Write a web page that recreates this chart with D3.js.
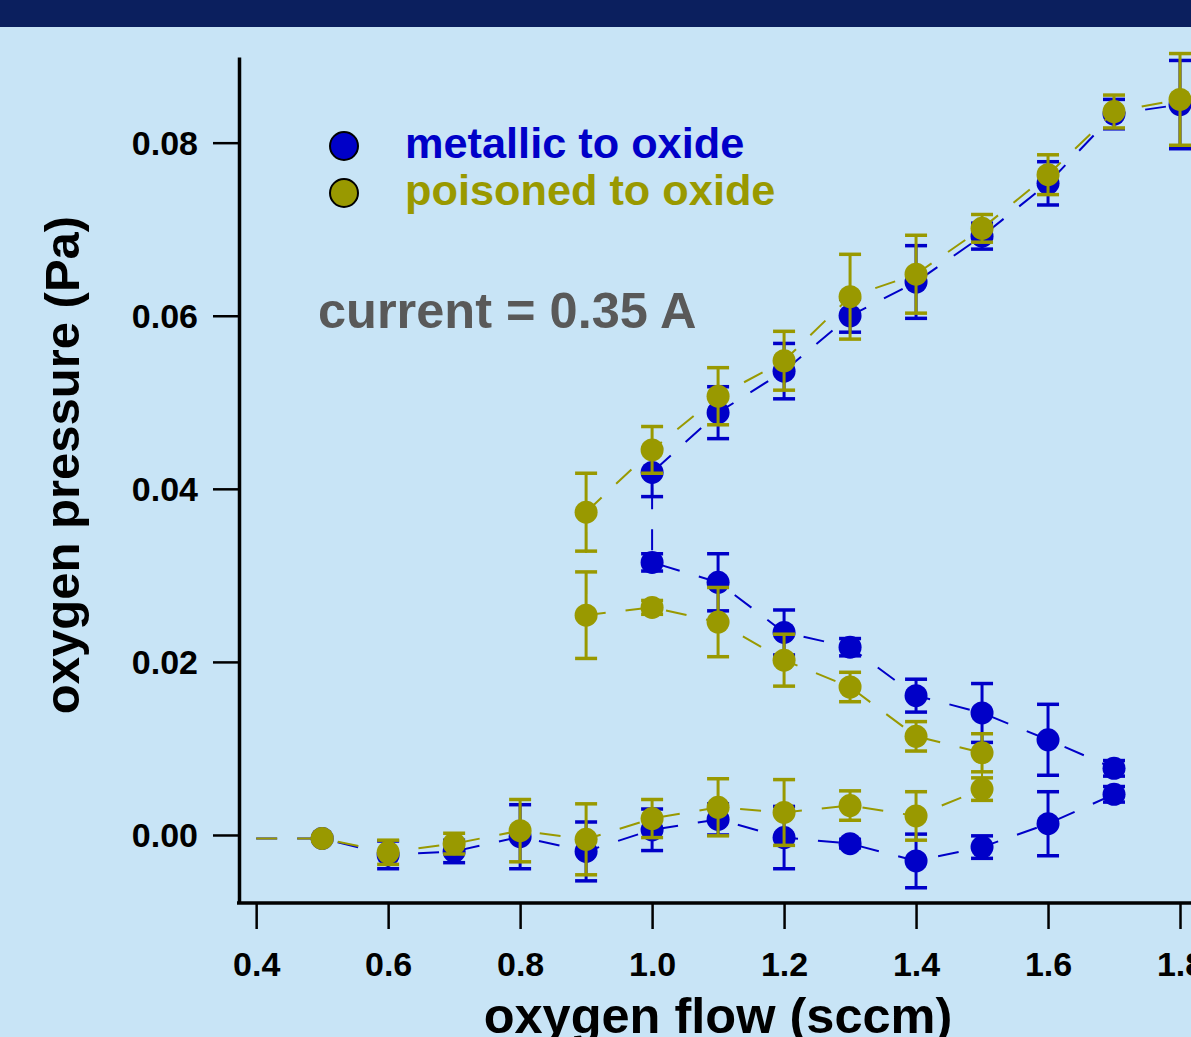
<!DOCTYPE html>
<html>
<head>
<meta charset="utf-8">
<title>oxygen pressure vs oxygen flow</title>
<script src="https://d3js.org/d3.v7.min.js"></script>
<style>
  body { margin: 0; background: #c8e4f6; }
  svg { font-family: "Liberation Sans", Arial, sans-serif; font-weight: bold; display: block; }
  .axis path, .axis line { stroke: #000; }
  .axis text { fill: #000; font-size: 34px; font-weight: bold; font-family: "Liberation Sans", Arial, sans-serif; }
</style>
</head>
<body>
<script>
// series order follows the measurement path (lower branch, middle branch, upper branch)
var metalFlow = [0.5, 0.6, 0.7, 0.8, 0.9, 1.0, 1.1, 1.2, 1.3, 1.4, 1.5, 1.6, 1.7,
                 1.7, 1.6, 1.5, 1.4, 1.3, 1.2, 1.1, 1.0,
                 1.0, 1.1, 1.2, 1.3, 1.4, 1.5, 1.6, 1.7, 1.8];
var metalP = [-0.0004, -0.0023, -0.0019, -0.0002, -0.0019, 0.0006, 0.0018, -0.0003, -0.0010, -0.0030, -0.0014, 0.0013, 0.0047,
              0.0077, 0.0110, 0.0141, 0.0161, 0.0217, 0.0234, 0.0292, 0.0315,
              0.0419, 0.0488, 0.0536, 0.0600, 0.0639, 0.0692, 0.0753, 0.0833, 0.0844];
var metalErr = [0.0003, 0.0016, 0.0013, 0.0037, 0.0034, 0.0024, 0.0018, 0.0036, 0.0005, 0.0031, 0.0013, 0.0037, 0.0009,
                0.0009, 0.0041, 0.0034, 0.0019, 0.0010, 0.0026, 0.0033, 0.0010,
                0.0028, 0.0030, 0.0032, 0.0019, 0.0042, 0.0015, 0.0025, 0.0017, 0.0051];

var poisFlow = [0.5, 0.6, 0.7, 0.8, 0.9, 1.0, 1.1, 1.2, 1.3, 1.4, 1.5,
                1.5, 1.4, 1.3, 1.2, 1.1, 1.0, 0.9,
                0.9, 1.0, 1.1, 1.2, 1.3, 1.4, 1.5, 1.6, 1.7, 1.8];
var poisP = [-0.0004, -0.0020, -0.0010, 0.0005, -0.0005, 0.0019, 0.0032, 0.0026, 0.0034, 0.0022, 0.0053,
             0.0095, 0.0114, 0.0171, 0.0202, 0.0246, 0.0263, 0.0254,
             0.0373, 0.0445, 0.0507, 0.0548, 0.0622, 0.0648, 0.0701, 0.0763, 0.0836, 0.0850];
var poisErr = [0.0003, 0.0014, 0.0012, 0.0036, 0.0041, 0.0022, 0.0033, 0.0038, 0.0017, 0.0028, 0.0013,
               0.0022, 0.0017, 0.0017, 0.0030, 0.0040, 0.0008, 0.0050,
               0.0045, 0.0027, 0.0033, 0.0034, 0.0049, 0.0045, 0.0016, 0.0023, 0.0019, 0.0053];

// the dashed line starts a bit left of the first marker
var lineStartFlow = 0.4;
var lineStartP = [-0.0004, -0.0004];

var seriesNames = ["metallic to oxide", "poisoned to oxide"];
var seriesColors = ["#0000c8", "#999900"];

var xTicks = [0.4, 0.6, 0.8, 1.0, 1.2, 1.4, 1.6, 1.8];
var yTicks = [0.00, 0.02, 0.04, 0.06, 0.08];
var note = "current = 0.35 A";

var W = 1191, H = 1037;

var svg = d3.select("body").append("svg")
    .attr("width", W)
    .attr("height", H);

svg.append("rect").attr("width", W).attr("height", H).attr("fill", "#c8e4f6");
svg.append("rect").attr("width", W).attr("height", 27).attr("fill", "#0b1f5e");

var x = d3.scaleLinear().domain([0.374, 1.9]).range([239, 1246]);
var y = d3.scaleLinear().domain([-0.00786, 0.0899]).range([903, 57]);

svg.append("clipPath").attr("id", "plotclip")
  .append("rect").attr("x", 240).attr("y", 30).attr("width", W - 240).attr("height", 873);

var plot = svg.append("g").attr("clip-path", "url(#plotclip)");

var series = [
    { flow: metalFlow, p: metalP, err: metalErr },
    { flow: poisFlow, p: poisP, err: poisErr }
];

var line = d3.line()
    .x(function (d) { return x(d[0]); })
    .y(function (d) { return y(d[1]); });

series.forEach(function (s, k) {
    var color = seriesColors[k];
    var pts = s.flow.map(function (f, i) { return [f, s.p[i], s.err[i]]; });
    var linePts = [[lineStartFlow, lineStartP[k]]].concat(pts);

    plot.append("path")
        .datum(linePts)
        .attr("d", line)
        .attr("fill", "none")
        .attr("stroke", color)
        .attr("stroke-width", 2)
        .attr("stroke-dasharray", "21,20");

    var bars = plot.append("g").selectAll("g")
        .data(pts)
        .enter().append("g")
        .attr("stroke", color);
    bars.append("line")
        .attr("x1", function (d) { return x(d[0]); })
        .attr("x2", function (d) { return x(d[0]); })
        .attr("y1", function (d) { return y(d[1] - d[2]); })
        .attr("y2", function (d) { return y(d[1] + d[2]); })
        .attr("stroke-width", 3);
    bars.append("line")
        .attr("x1", function (d) { return x(d[0]) - 11; })
        .attr("x2", function (d) { return x(d[0]) + 11; })
        .attr("y1", function (d) { return y(d[1] + d[2]); })
        .attr("y2", function (d) { return y(d[1] + d[2]); })
        .attr("stroke-width", 3.5);
    bars.append("line")
        .attr("x1", function (d) { return x(d[0]) - 11; })
        .attr("x2", function (d) { return x(d[0]) + 11; })
        .attr("y1", function (d) { return y(d[1] - d[2]); })
        .attr("y2", function (d) { return y(d[1] - d[2]); })
        .attr("stroke-width", 3.5);

    plot.append("g").selectAll("circle")
        .data(pts)
        .enter().append("circle")
        .attr("cx", function (d) { return x(d[0]); })
        .attr("cy", function (d) { return y(d[1]); })
        .attr("r", 11.5)
        .attr("fill", color);
});

// axes
var xAxis = d3.axisBottom(x).tickValues(xTicks).tickSize(26).tickSizeOuter(0)
    .tickFormat(d3.format(".1f"));
var gx = svg.append("g").attr("class", "axis")
    .attr("transform", "translate(0,903)")
    .call(xAxis);
gx.select(".domain").attr("stroke-width", 3.5).attr("d", "M237,0H" + (W + 10));
gx.selectAll(".tick line").attr("stroke-width", 2.5);
gx.selectAll(".tick text").attr("dy", null).attr("y", 73);

var yAxis = d3.axisLeft(y).tickValues(yTicks).tickSize(26).tickSizeOuter(0).tickPadding(15)
    .tickFormat(d3.format(".2f"));
var gy = svg.append("g").attr("class", "axis")
    .attr("transform", "translate(239,0)")
    .call(yAxis);
gy.select(".domain").attr("stroke-width", 3.5);
gy.selectAll(".tick line").attr("stroke-width", 2.5);
gy.selectAll(".tick text").attr("dy", "0.35em");

// axis titles
svg.append("text")
    .attr("x", 718)
    .attr("y", 1033)
    .attr("text-anchor", "middle")
    .attr("font-size", "50.5px")
    .attr("fill", "#000")
    .text("oxygen flow (sccm)");

svg.append("text")
    .attr("transform", "translate(79,465)rotate(-90)")
    .attr("text-anchor", "middle")
    .attr("font-size", "49px")
    .attr("fill", "#000")
    .text("oxygen pressure (Pa)");

// legend
var legend = svg.append("g");
seriesNames.forEach(function (name, k) {
    legend.append("circle")
        .attr("cx", 344)
        .attr("cy", 146 + k * 47)
        .attr("r", 14)
        .attr("fill", seriesColors[k])
        .attr("stroke", "#000")
        .attr("stroke-width", 2);
    legend.append("text")
        .attr("x", 405)
        .attr("y", 158 + k * 47)
        .attr("font-size", "43.3px")
        .attr("fill", seriesColors[k])
        .text(name);
});

svg.append("text")
    .attr("x", 318)
    .attr("y", 328)
    .attr("font-size", "50.5px")
    .attr("fill", "#595959")
    .text(note);
</script>
</body>
</html>
